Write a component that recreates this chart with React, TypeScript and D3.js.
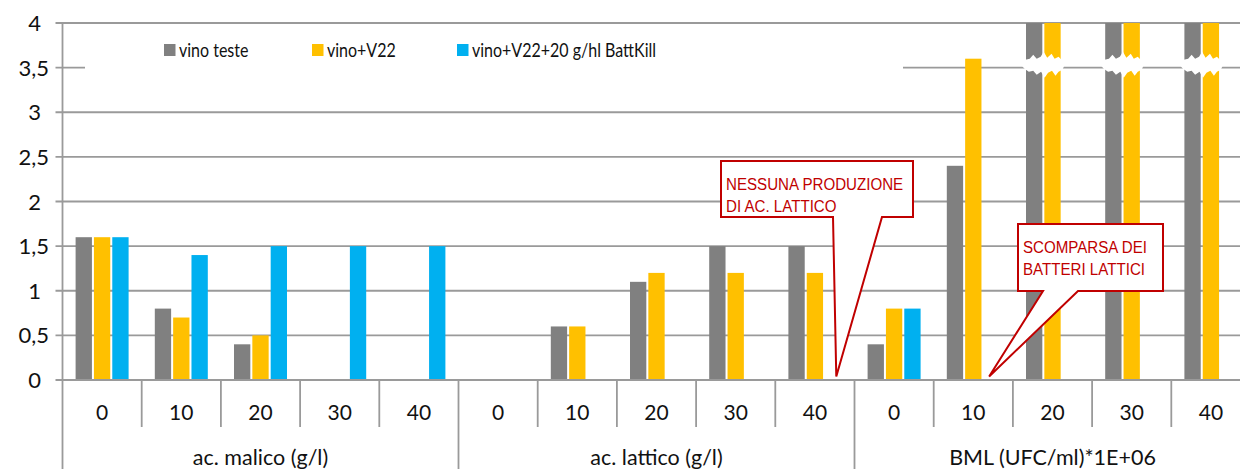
import React from 'react';
import * as d3 from 'd3';

// data
const groups = ['ac. malico (g/l)', 'ac. lattico (g/l)', 'BML (UFC/ml)*1E+06'];
const levels = ['0', '10', '20', '30', '40'];
const seriesNames = ['vino teste', 'vino+V22', 'vino+V22+20 g/hl BattKill'];
const seriesColors = ['#808080', '#FFC000', '#00B0F0'];
// BML 20/30/40 are off scale in the picture (cut at 4), estimated
const vinoTeste = [1.6, 0.8, 0.4, 0, 0, 0, 0.6, 1.1, 1.5, 1.5, 0.4, 2.4, 8, 9, 10];
const vinoV22 = [1.6, 0.7, 0.5, 0, 0, 0, 0.6, 1.2, 1.2, 1.2, 0.8, 3.6, 8, 9, 10];
const battKill = [1.6, 1.4, 1.5, 1.5, 1.5, 0, 0, 0, 0, 0, 0.8, 0, 0, 0, 0];
const yTicks = [0, 0.5, 1, 1.5, 2, 2.5, 3, 3.5, 4];

const callouts = [
  { lines: ['NESSUNA PRODUZIONE', 'DI AC. LATTICO'], key: 'ac. lattico (g/l)|40', at: 0.77, box: [721, 161, 913, 217], base: [833, 882] },
  { lines: ['SCOMPARSA DEI', 'BATTERI LATTICI'], key: 'BML (UFC/ml)*1E+06|10', at: 0.7, box: [1018, 224, 1163, 291], base: [1043, 1078] },
];

// outline of the white "break" blob, as fractions of its width and px offsets
const breakShape: [number, number][] = [
  [0, 0], [0.1, -5], [0.2, -6], [0.28, -10], [0.36, -6], [0.45, -8], [0.52, -13], [0.6, -7],
  [0.7, -11], [0.77, -6], [0.86, -8], [0.95, -4], [1, 0],
  [0.95, 5], [0.86, 7], [0.79, 11], [0.71, 6], [0.62, 8], [0.54, 13], [0.46, 7], [0.36, 10],
  [0.28, 6], [0.18, 7], [0.08, 4],
];

const W = 1240;
const H = 469;
const left = 62.5;
const top = 23;
const bottom = 380;
const red = '#C00000';
const grid = '#9a9a9a';
const font = 'Lato, Carlito, Calibri, sans-serif';

export default function App() {
  const keys: string[] = [];
  groups.forEach(g => levels.forEach(l => keys.push(g + '|' + l)));
  const series = [vinoTeste, vinoV22, battKill];

  const x = d3.scaleBand<string>().domain(keys).range([left, left + 15 * 79.2]).padding(0);
  const y = d3.scaleLinear().domain([0, 4]).range([bottom, top]);
  const inner = d3.scaleBand<number>().domain([0, 1, 2]).range([-26.5, 26.5]).paddingInner(0.11);
  const bw = inner.bandwidth();
  const fmt = (v: number) => String(v).replace('.', ',');

  const breakPath = (x0: number, x1: number, yc: number) =>
    d3.line()(breakShape.map(([u, dy]) => [x0 + u * (x1 - x0), yc + dy] as [number, number])) + 'Z';

  return (
    <svg width={W} height={H} style={{ position: 'absolute', left: 0, top: 0, background: '#fff' }}>
      {/* gridlines and y labels */}
      {yTicks.map(t => (
        <g key={t}>
          <line x1={left - 7} x2={W} y1={y(t)} y2={y(t)} stroke={grid} strokeWidth={1.8} />
          <text x={Number.isInteger(t) ? 41 : 49} y={y(t) + 8} textAnchor="end" fontFamily={font} fontSize={22} fill="#111">{fmt(t)}</text>
        </g>
      ))}

      {/* legend box hides part of the 3,5 gridline */}
      <rect x={85} y={32} width={818} height={48} fill="#fff" />
      {seriesNames.map((s, i) => {
        const lx = [164, 312, 457][i];
        return (
          <g key={s}>
            <rect x={lx} y={44} width={11.5} height={12} fill={seriesColors[i]} />
            <text transform={`translate(${lx + 15},56.5) scale(0.8,1)`} fontFamily={font} fontSize={20} fill="#111">{s}</text>
          </g>
        );
      })}

      {/* bars */}
      {series.map((vals, si) => (
        <g key={si} fill={seriesColors[si]}>
          {keys.map((k, ci) => {
            const v = vals[ci];
            if (!v) return null;
            const cx = (x(k) as number) + x.bandwidth() / 2;
            const yt = y(Math.min(v, 4));
            return <rect key={k} x={cx + (inner(si) as number)} y={yt} width={bw} height={bottom - yt} />;
          })}
        </g>
      ))}

      {/* break marks on bars cut at the top of the axis */}
      {keys.map((k, ci) => {
        const clipped = series.map((vals, si) => (vals[ci] > 4 ? si : -1)).filter(si => si >= 0);
        if (!clipped.length) return null;
        const cx = (x(k) as number) + x.bandwidth() / 2;
        const x0 = cx + (inner(clipped[0]) as number) - 5;
        const x1 = cx + (inner(clipped[clipped.length - 1]) as number) + bw + 4;
        return <path key={k} d={breakPath(x0, x1, y(3.5) - 3)} fill="#fff" />;
      })}

      {/* axes */}
      <line x1={left} x2={left} y1={top} y2={H} stroke={grid} strokeWidth={1.8} />
      <line x1={left} x2={W} y1={bottom} y2={bottom} stroke={grid} strokeWidth={1.8} />
      {keys.map((k, i) => {
        const x0 = x(k) as number;
        const isGroupStart = i % 5 === 0;
        return (
          <g key={k}>
            {i > 0 && <line x1={x0} x2={x0} y1={bottom} y2={isGroupStart ? H : 427} stroke={grid} strokeWidth={1.8} />}
            <text x={x0 + x.bandwidth() / 2} y={420} textAnchor="middle" fontFamily={font} fontSize={21} fill="#111">{levels[i % 5]}</text>
          </g>
        );
      })}
      {groups.map(g => {
        const x0 = x(g + '|0') as number;
        const x1 = (x(g + '|40') as number) + x.bandwidth();
        return (
          <text key={g} x={(x0 + x1) / 2} y={465} textAnchor="middle" fontFamily={font} fontSize={21.5} fill="#111">{g}</text>
        );
      })}

      {/* callouts */}
      {callouts.map((c, i) => {
        const [bx0, by0, bx1, by1] = c.box;
        const tx = (x(c.key) as number) + x.bandwidth() * c.at;
        const ty = y(0.04);
        const d = `M${bx0},${by0}H${bx1}V${by1}H${c.base[1]}L${tx},${ty}L${c.base[0]},${by1}H${bx0}Z`;
        return (
          <g key={i}>
            <path d={d} fill="#fff" stroke={red} strokeWidth={2} />
            {c.lines.map((l, li) => (
              <text key={li} transform={`translate(${bx0 + 5},${by0 + 29 + li * 21.5}) scale(0.9,1)`} fontFamily="'Liberation Sans', Arial, sans-serif" fontSize={16.8} fill={red}>{l}</text>
            ))}
          </g>
        );
      })}
    </svg>
  );
}
